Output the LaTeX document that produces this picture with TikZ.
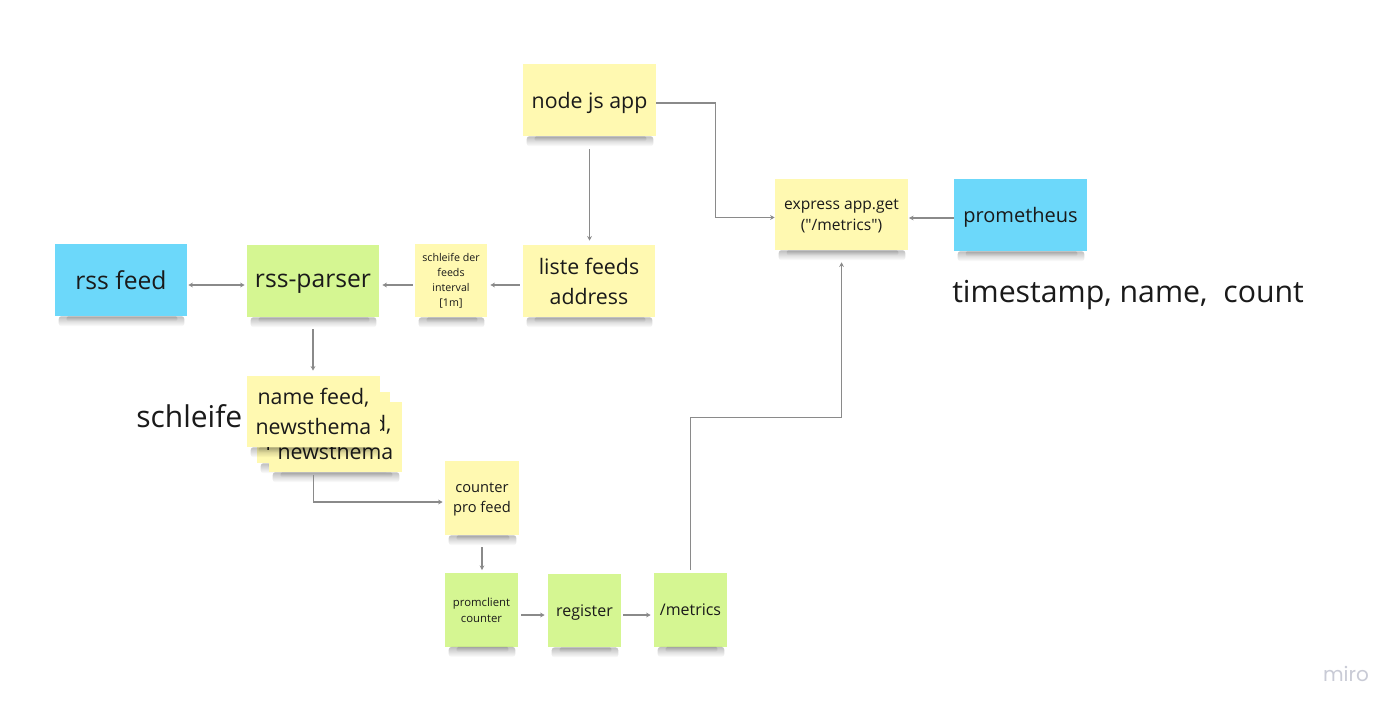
\documentclass[tikz,border=0pt]{standalone}
\usepackage{fontspec}
\setmainfont{Open Sans}[Ligatures=TeXOff]
\newfontfamily\logofont{Poppins}
\usetikzlibrary{arrows.meta,calc,fadings}
\definecolor{nyellow}{HTML}{FFF9B1}
\definecolor{ngreen}{HTML}{D5F692}
\definecolor{nblue}{HTML}{6CD8FA}
\definecolor{ntext}{HTML}{1A1A1A}
\definecolor{nline}{HTML}{8A8A8A}
\definecolor{logogray}{HTML}{C9CBD6}
\tikzset{
  note/.style={inner sep=0pt, align=center, text=ntext, minimum width=99.75pt, minimum height=54pt},
  sqnote/.style={note, minimum width=54.75pt, minimum height=55pt},
  yel/.style={fill=nyellow},
  grn/.style={fill=ngreen},
  blu/.style={fill=nblue},
  nodesc/.style={text depth=0pt},
  conn/.style={draw=nline, line width=0.8pt, -{Stealth[length=3.5pt,width=3.5pt]}},
  plaintext/.style={text=ntext, inner sep=0pt}
}
\newcommand\notesh[1]{%
  \fill[black,opacity=0.25,path fading=south,rounded corners=2pt] ($(#1.south west)+(4,0)$) rectangle ($(#1.south east)+(-3,10)$);
  \fill[black,opacity=0.14,path fading=south,rounded corners=1pt] ($(#1.south west)+(12,0)$) rectangle ($(#1.south east)+(-10,5)$);
}
\begin{document}
\begin{tikzpicture}[x=0.75pt,y=-0.75pt]
\fill[white] (0,0) rectangle (1400,713);
\useasboundingbox (0,0) rectangle (1400,713);

% free texts
\node[plaintext,anchor=west,font=\fontsize{22.5}{27}\selectfont] (schleifetxt) at (136,416) {schleife};
\node[plaintext,anchor=west,font=\fontsize{22.7}{27}\selectfont] (ts) at (952,295.5) {timestamp, name,~ count};

% notes
\node[note,yel,nodesc,font=\fontsize{16}{22}\selectfont] (nodejs) at (589.5,100) {node js app}; \notesh{nodejs}
\node[note,yel,nodesc,font=\fontsize{11.7}{15.75}\selectfont,minimum height=53.25pt] (express) at (841.5,214.5) {express app.get\\("/metrics")}; \notesh{express}
\node[note,blu,nodesc,font=\fontsize{15}{20}\selectfont] (prom) at (1020.5,215) {prometheus}; \notesh{prom}
\node[note,blu,font=\fontsize{18.5}{24}\selectfont,minimum width=99pt] (rssfeed) at (121,280) {rss feed}; \notesh{rssfeed}
\node[note,grn,text depth=-1.5pt,font=\fontsize{18.5}{24}\selectfont,minimum width=99pt] (parser) at (313,281) {rss-parser}; \notesh{parser}
\node[sqnote,yel,font=\fontsize{8}{11.25}\selectfont,minimum width=54pt] (loop) at (451,280.5) {schleife der\\feeds\\interval\\{[1m]}}; \notesh{loop}
\node[note,yel,font=\fontsize{16}{22.5}\selectfont,minimum width=99pt] (liste) at (589,281) {liste feeds\\address}; \notesh{liste}

\node[note,yel,font=\fontsize{16}{23}\selectfont,minimum height=53.25pt] (mid) at (323.5,427.5) {name feed,\\newsthema}; \notesh{mid}
\node[note,yel,font=\fontsize{16}{21}\selectfont,minimum height=52.5pt] (back) at (335.5,437) {name feed,\\newsthema}; \notesh{back}
\node[note,yel,font=\fontsize{16}{23}\selectfont,minimum height=53.25pt] (front) at (313.5,411.5) {name feed,\\newsthema}; \notesh{front}

\node[sqnote,yel,nodesc,font=\fontsize{11}{15}\selectfont,minimum width=55.5pt,minimum height=55.5pt] (counter) at (482,498) {counter\\pro feed}; \notesh{counter}
\node[sqnote,grn,font=\fontsize{8.5}{12}\selectfont] (promc) at (481.5,610) {promclient\\counter}; \notesh{promc}
\node[sqnote,grn,nodesc,font=\fontsize{12}{16}\selectfont] (register) at (584.5,610.5) {register}; \notesh{register}
\node[sqnote,grn,nodesc,font=\fontsize{12}{16}\selectfont] (metrics) at (690.5,610) {/metrics}; \notesh{metrics}

\node[text=logogray,inner sep=0pt,font=\logofont\fontsize{15}{15}\selectfont] (logo) at (1346,674) {miro};

% connectors
\draw[conn] ($(nodejs.east)+(0,3)$) -- ++(59,0) |- ($(express.west)+(0,3)$);
\draw[conn,shorten <=9.75pt,shorten >=3pt] (nodejs.south) -- (nodejs.south |- liste.north);
\draw[conn,shorten >=0.5pt] ($(prom.west)+(0,3)$) -- ($(express.east)+(0,3.5)$);
\draw[conn,shorten >=2.25pt] ($(liste.west)+(-3,4)$) -- ($(loop.east)+(0,4.5)$);
\draw[conn,shorten <=1.5pt,shorten >=2.25pt] ($(loop.west)+(0,4.5)$) -- ($(parser.east)+(0,4)$);
\draw[conn,{Stealth[length=3.5pt,width=3.5pt]}-{Stealth[length=3.5pt,width=3.5pt]}] ($(rssfeed.east)+(1,5)$) -- ($(parser.west)+(-2,4)$);
\draw[conn,shorten <=9pt,shorten >=3.75pt] (parser.south) -- (parser.south |- front.north);
\draw[conn,shorten >=1.5pt] ($(front.south)+(0,28)$) |- ($(counter.west)+(0,4)$);
\draw[conn,shorten <=9pt,shorten >=2.25pt] (counter.south) -- (counter.south |- promc.north);
\draw[conn,shorten <=2.25pt,shorten >=2.25pt] ($(promc.east)+(0,5)$) -- ($(register.west)+(0,4.5)$);
\draw[conn,shorten <=1.5pt,shorten >=2.25pt] ($(register.east)+(0,4.5)$) -- ($(metrics.west)+(0,5)$);
\draw[conn,shorten <=2.25pt,shorten >=9pt] (metrics.north) -- ++(0,-156) -| (express.south);
\end{tikzpicture}
\end{document}
